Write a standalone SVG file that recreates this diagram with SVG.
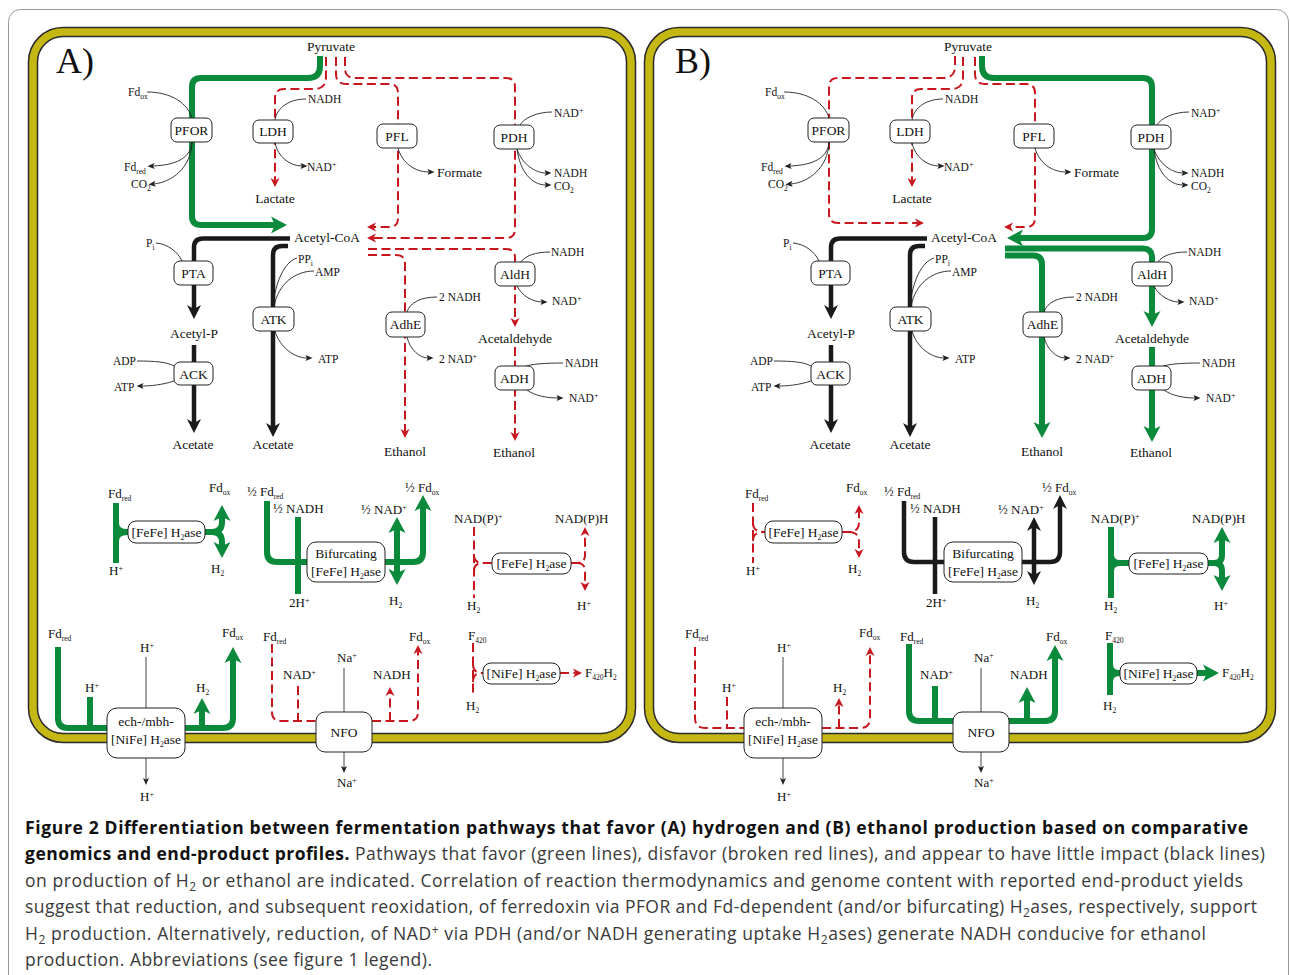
<svg xmlns="http://www.w3.org/2000/svg" width="1290" height="975" viewBox="0 0 1290 975">
<defs>
<style>
.g{stroke:#0b8a3c;stroke-width:6;fill:none;stroke-linejoin:round}
.k{stroke:#1a1a1a;stroke-width:4.5;fill:none;stroke-linejoin:round}
.r{stroke:#c8161e;stroke-width:2;fill:none;stroke-dasharray:9 4.5}
.th{stroke:#222;stroke-width:0.9;fill:none}
.gr{stroke:#444;stroke-width:1;fill:none}
.box{fill:#fff;stroke:#222;stroke-width:1}
.bd1{fill:none;stroke:#2a2a2a;stroke-width:10.5}
.bd2{fill:none;stroke:#c5b815;stroke-width:7.5}
text{font-family:"Liberation Serif","Times New Roman",serif;fill:#111}
.e{font-size:13.5px;text-anchor:middle}
.p{font-size:13.5px}
.m{text-anchor:middle}
.c{font-size:11.5px}
.b{font-size:13px}
.sb{font-size:7.5px}
.sp{font-size:8px}
.lab{font-size:36px}
.cap{font-family:"Open Sans","Liberation Sans",sans-serif;font-size:17.5px;fill:#3a3a3a}
.bo{font-weight:bold;fill:#111}
</style>
<marker id="mg" markerUnits="userSpaceOnUse" markerWidth="20" markerHeight="20" refX="4" refY="0" orient="auto" overflow="visible"><path d="M0,-8.5 L16,0 L0,8.5 L4,0 z" fill="#0b8a3c"/></marker>
<marker id="mk" markerUnits="userSpaceOnUse" markerWidth="20" markerHeight="20" refX="4" refY="0" orient="auto" overflow="visible"><path d="M0,-7 L14,0 L0,7 L4,0 z" fill="#1a1a1a"/></marker>
<marker id="mr" markerUnits="userSpaceOnUse" markerWidth="12" markerHeight="12" refX="2.5" refY="0" orient="auto" overflow="visible"><path d="M0,-4.5 L9,0 L0,4.5 L2.5,0 z" fill="#c8161e"/></marker>
<marker id="mt" markerUnits="userSpaceOnUse" markerWidth="10" markerHeight="10" refX="1.5" refY="0" orient="auto" overflow="visible"><path d="M0,-3 L7,0 L0,3 L1.5,0 z" fill="#222"/></marker>
</defs>
<rect x="0" y="0" width="1290" height="975" fill="#fff"/>
<rect x="8.5" y="9.5" width="1280" height="1000" rx="12" fill="none" stroke="#999" stroke-width="1"/>

<!-- Panel borders -->
<g id="cellA"><rect class="bd1" x="33" y="32" width="598" height="706" rx="30"/><rect class="bd2" x="33" y="32" width="598" height="706" rx="30"/></g>
<g id="cellB"><rect class="bd1" x="649" y="32" width="622" height="706" rx="30"/><rect class="bd2" x="649" y="32" width="622" height="706" rx="30"/></g>
<text class="lab" x="56" y="73">A)</text>
<text class="lab" x="675" y="73">B)</text>

<!-- ================= PANEL A ================= -->
<g id="panelA">
<g id="A-connectors">
<path class="g" marker-end="url(#mg)" d="M320,56 L320,66 Q320,78 308,78 L201,78 Q192,78 192,87 L192,216 Q192,225 201,225 L275,225"/>
<path class="r" marker-end="url(#mr)" d="M326,57 L326,77 Q326,89 314,89 L284,89 Q275,89 275,98 L275,180.5"/>
<path class="r" marker-end="url(#mr)" d="M336,57 L336,74 Q336,84 346,84 L389,84 Q398,84 398,93 L398,218 Q398,227 389,227 L373.5,227"/>
<path class="r" marker-end="url(#mr)" d="M345,57 L345,68 Q345,78 355,78 L506,78 Q515,78 515,87 L515,229 Q515,238 506,238 L373.5,238"/>
<path class="k" marker-end="url(#mk)" d="M290,238.5 L203,238.5 Q194,238.5 194,247.5 L194,309"/>
<path class="k" marker-end="url(#mk)" d="M194,345 L194,423"/>
<path class="k" marker-end="url(#mk)" d="M288,246 L282,246 Q273,246 273,255 L273,427"/>
<path class="r" marker-end="url(#mr)" d="M368,249 L506,249 Q515,249 515,258 L515,320.5"/>
<path class="r" marker-end="url(#mr)" d="M368,255 L396,255 Q405,255 405,264 L405,431.5"/>
<path class="r" marker-end="url(#mr)" d="M515,347 L515,434.5"/>
<!-- cofactor curves -->
<path class="th" d="M147,92 C172,92 188,104 192,118"/>
<path class="th" marker-end="url(#mt)" d="M192,142 C191,157 178,165 153,166"/>
<path class="th" marker-end="url(#mt)" d="M192,142 C191,168 172,182 154,184"/>
<path class="th" d="M306,99 C290,99 277,107 275,120"/>
<path class="th" marker-end="url(#mt)" d="M275,143 C278,157 290,166 302,166"/>
<path class="th" marker-end="url(#mt)" d="M398,148 C402,163 415,172 429,172"/>
<path class="th" d="M552,112 C537,112 524,118 520,125"/>
<path class="th" marker-end="url(#mt)" d="M517,149 C522,164 535,173 546,173"/>
<path class="th" marker-end="url(#mt)" d="M517,149 C520,172 532,185 546,185"/>
<path class="th" d="M156,243 C168,244 178,252 182,261"/>
<path class="th" d="M137,361 C155,361 167,362 174,366"/>
<path class="th" marker-end="url(#mt)" d="M174,381 C162,385 150,386 142,386"/>
<path class="th" d="M297,258 C284,262 275,283 273,307"/>
<path class="th" d="M314,271 C296,271 278,283 274,307"/>
<path class="th" marker-end="url(#mt)" d="M275,331 C280,348 295,358 307,358"/>
<path class="th" d="M437,297 C422,297 410,302 407,312"/>
<path class="th" marker-end="url(#mt)" d="M407,337 C410,350 420,358 428,358"/>
<path class="th" d="M550,252 C535,252 525,256 521,262"/>
<path class="th" marker-end="url(#mt)" d="M517,286 C522,296 533,302 542,302"/>
<path class="th" d="M563,363 C545,363 530,364 524,367"/>
<path class="th" marker-end="url(#mt)" d="M527,390 C535,396 548,398 558,398"/>
<!-- bottom: FeFe Fd (green) -->
<path class="g" d="M116,503 L116,563 M116,523 Q116,532 127,532 L128,532 M116,541 Q116,532 127,532"/>
<path class="g" marker-end="url(#mg)" d="M205,532 L212,532 Q222,532 222,522 L222,517"/>
<path class="g" marker-end="url(#mg)" d="M212,532 Q222,532 222,542 L222,546"/>
<!-- bifurcating (green) -->
<path class="g" d="M267,501 L267,552 Q267,562 277,562 L307,562 M298,517 L298,594"/>
<path class="g" marker-end="url(#mg)" d="M385,562 L413,562 Q423,562 423,552 L423,507"/>
<path class="g" marker-end="url(#mg)" d="M397,562 L397,529"/>
<path class="g" marker-end="url(#mg)" d="M397,562 L397,573"/>
<!-- NAD(P) FeFe (red) -->
<path class="r" d="M474,527 L474,598 M474,555 Q474,563 483,563 L492,563 M474,571 Q474,563 483,563"/>
<path class="r" marker-end="url(#mr)" d="M571,563 L577,563 Q585,563 585,555 L585,533.5"/>
<path class="r" marker-end="url(#mr)" d="M577,563 Q585,563 585,571 L585,584.5"/>
<!-- ech (green) -->
<path class="g" d="M58,647 L58,718 Q58,728 68,728 L107,728 M90,697 L90,728"/>
<path class="g" marker-end="url(#mg)" d="M185,728 L223,728 Q233,728 233,718 L233,659"/>
<path class="g" marker-end="url(#mg)" d="M202,728 L202,710"/>
<path class="gr" d="M146,657 L146,708"/>
<path class="gr" marker-end="url(#mt)" d="M146,758 L146,779.5"/>
<!-- NFO (red) -->
<path class="r" d="M272,644 L272,712 Q272,721 281,721 L316,721 M298,686 L298,721"/>
<path class="r" marker-end="url(#mr)" d="M372,721 L409,721 Q418,721 418,712 L418,651.5"/>
<path class="r" marker-end="url(#mr)" d="M390,721 L390,693.5"/>
<path class="gr" d="M344,668 L344,712"/>
<path class="gr" marker-end="url(#mt)" d="M344,752 L344,767.5"/>
<!-- F420 NiFe (red) -->
<path class="r" d="M473,643 L473,695 M473,664 Q473,673 482,673 L483,673 M473,682 Q473,673 482,673"/>
<path class="r" marker-end="url(#mr)" d="M560,673 L575.5,673"/>
</g>
<g id="A-PFOR"><rect class="box" x="171" y="118" width="41" height="24" rx="6"/><text class="e" x="191.5" y="134.5">PFOR</text></g>
<g id="A-LDH"><rect class="box" x="253" y="120" width="40" height="23" rx="6"/><text class="e" x="273" y="136">LDH</text></g>
<g id="A-PFL"><rect class="box" x="377" y="124" width="40" height="24" rx="6"/><text class="e" x="397" y="141">PFL</text></g>
<g id="A-PDH"><rect class="box" x="494" y="125" width="40" height="24" rx="6"/><text class="e" x="514" y="142">PDH</text></g>
<g id="A-PTA"><rect class="box" x="174" y="261" width="39" height="24" rx="6"/><text class="e" x="193.5" y="278">PTA</text></g>
<g id="A-ACK"><rect class="box" x="174" y="362" width="39" height="23" rx="6"/><text class="e" x="193.5" y="378.5">ACK</text></g>
<g id="A-ATK"><rect class="box" x="253" y="307" width="41" height="24" rx="6"/><text class="e" x="273.5" y="324">ATK</text></g>
<g id="A-AdhE"><rect class="box" x="386" y="312" width="39" height="25" rx="6"/><text class="e" x="405.5" y="329">AdhE</text></g>
<g id="A-AldH"><rect class="box" x="495" y="262" width="40" height="24" rx="6"/><text class="e" x="515" y="279">AldH</text></g>
<g id="A-ADH"><rect class="box" x="495" y="366" width="39" height="24" rx="6"/><text class="e" x="514.5" y="383">ADH</text></g>
<g id="A-FeFe1"><rect class="box" x="128" y="521" width="77" height="22" rx="8"/><text class="e" x="166.5" y="537">[FeFe] H<tspan class="sb" dy="3">2</tspan><tspan dy="-3">ase</tspan></text></g>
<g id="A-Bifurc"><rect class="box" x="307" y="542" width="78" height="40" rx="9"/><text class="e" x="346" y="558">Bifurcating</text><text class="e" x="346" y="576">[FeFe] H<tspan class="sb" dy="3">2</tspan><tspan dy="-3">ase</tspan></text></g>
<g id="A-FeFe2"><rect class="box" x="492" y="553" width="79" height="21" rx="8"/><text class="e" x="531.5" y="568">[FeFe] H<tspan class="sb" dy="3">2</tspan><tspan dy="-3">ase</tspan></text></g>
<g id="A-ech"><rect class="box" x="107" y="708" width="78" height="50" rx="10"/><text class="e" x="146" y="726">ech-/mbh-</text><text class="e" x="146" y="744">[NiFe] H<tspan class="sb" dy="3">2</tspan><tspan dy="-3">ase</tspan></text></g>
<g id="A-NFO"><rect class="box" x="316" y="712" width="56" height="40" rx="9"/><text class="e" x="344" y="737">NFO</text></g>
<g id="A-NiFe"><rect class="box" x="483" y="663" width="77" height="21" rx="8"/><text class="e" x="521.5" y="678">[NiFe] H<tspan class="sb" dy="3">2</tspan><tspan dy="-3">ase</tspan></text></g>
<g id="A-labels">
<text class="p m" x="331" y="51">Pyruvate</text>
<text class="c" x="128" y="96">Fd<tspan class="sb" dy="3">ox</tspan></text>
<text class="c" x="124" y="171">Fd<tspan class="sb" dy="3">red</tspan></text>
<text class="c" x="131" y="188">CO<tspan class="sb" dy="3">2</tspan></text>
<text class="c" x="308" y="103">NADH</text>
<text class="c" x="307" y="171">NAD<tspan class="sp" dy="-4">+</tspan></text>
<text class="p m" x="275" y="203">Lactate</text>
<text class="p" x="437" y="177">Formate</text>
<text class="c" x="554" y="117">NAD<tspan class="sp" dy="-4">+</tspan></text>
<text class="c" x="554" y="177">NADH</text>
<text class="c" x="554" y="190">CO<tspan class="sb" dy="3">2</tspan></text>
<text class="p" x="294" y="242">Acetyl-CoA</text>
<text class="c" x="146" y="247">P<tspan class="sb" dy="3">i</tspan></text>
<text class="c" x="298" y="263">PP<tspan class="sb" dy="3">i</tspan></text>
<text class="c" x="315" y="276">AMP</text>
<text class="p m" x="194" y="338">Acetyl-P</text>
<text class="c" x="113" y="365">ADP</text>
<text class="c" x="114" y="391">ATP</text>
<text class="c" x="318" y="363">ATP</text>
<text class="p m" x="193" y="449">Acetate</text>
<text class="p m" x="273" y="449">Acetate</text>
<text class="c" x="439" y="301">2 NADH</text>
<text class="c" x="439" y="363">2 NAD<tspan class="sp" dy="-4">+</tspan></text>
<text class="c" x="551" y="256">NADH</text>
<text class="c" x="552" y="305">NAD<tspan class="sp" dy="-4">+</tspan></text>
<text class="p m" x="515" y="343">Acetaldehyde</text>
<text class="c" x="565" y="367">NADH</text>
<text class="c" x="569" y="402">NAD<tspan class="sp" dy="-4">+</tspan></text>
<text class="p m" x="405" y="456">Ethanol</text>
<text class="p m" x="514" y="457">Ethanol</text>
<text class="b" x="108" y="498">Fd<tspan class="sb" dy="3">red</tspan></text>
<text class="b" x="209" y="492">Fd<tspan class="sb" dy="3">ox</tspan></text>
<text class="b" x="109" y="575">H<tspan class="sp" dy="-4">+</tspan></text>
<text class="b" x="211" y="573">H<tspan class="sb" dy="3">2</tspan></text>
<text class="b" x="247" y="496">½ Fd<tspan class="sb" dy="3">red</tspan></text>
<text class="b" x="273" y="513">½ NADH</text>
<text class="b" x="289" y="607">2H<tspan class="sp" dy="-4">+</tspan></text>
<text class="b" x="361" y="514">½ NAD<tspan class="sp" dy="-4">+</tspan></text>
<text class="b" x="405" y="492">½ Fd<tspan class="sb" dy="3">ox</tspan></text>
<text class="b" x="389" y="605">H<tspan class="sb" dy="3">2</tspan></text>
<text class="b" x="454" y="523">NAD(P)<tspan class="sp" dy="-4">+</tspan></text>
<text class="b" x="555" y="523">NAD(P)H</text>
<text class="b" x="467" y="610">H<tspan class="sb" dy="3">2</tspan></text>
<text class="b" x="577" y="610">H<tspan class="sp" dy="-4">+</tspan></text>
<text class="b" x="48" y="638">Fd<tspan class="sb" dy="3">red</tspan></text>
<text class="b" x="140" y="652">H<tspan class="sp" dy="-4">+</tspan></text>
<text class="b" x="85" y="692">H<tspan class="sp" dy="-4">+</tspan></text>
<text class="b" x="196" y="692">H<tspan class="sb" dy="3">2</tspan></text>
<text class="b" x="222" y="637">Fd<tspan class="sb" dy="3">ox</tspan></text>
<text class="b" x="140" y="801">H<tspan class="sp" dy="-4">+</tspan></text>
<text class="b" x="263" y="641">Fd<tspan class="sb" dy="3">red</tspan></text>
<text class="b" x="283" y="679">NAD<tspan class="sp" dy="-4">+</tspan></text>
<text class="b" x="337" y="662">Na<tspan class="sp" dy="-4">+</tspan></text>
<text class="b" x="373" y="679">NADH</text>
<text class="b" x="409" y="641">Fd<tspan class="sb" dy="3">ox</tspan></text>
<text class="b" x="337" y="787">Na<tspan class="sp" dy="-4">+</tspan></text>
<text class="b" x="468" y="640">F<tspan class="sb" dy="3">420</tspan></text>
<text class="b" x="466" y="710">H<tspan class="sb" dy="3">2</tspan></text>
<text class="b" x="585" y="677">F<tspan class="sb" dy="3">420</tspan><tspan dy="-3">H</tspan><tspan class="sb" dy="3">2</tspan></text>
</g>
</g>

<!-- ================= PANEL B ================= -->
<g id="panelB" transform="translate(637,0)">
<g id="B-connectors">
<path class="r" marker-end="url(#mr)" d="M318,56 L318,66 Q318,78 306,78 L201,78 Q192,78 192,87 L192,214 Q192,223 201,223 L280.5,223"/>
<path class="r" marker-end="url(#mr)" d="M326,57 L326,77 Q326,89 314,89 L284,89 Q275,89 275,98 L275,180.5"/>
<path class="r" marker-end="url(#mr)" d="M338,57 L338,74 Q338,84 348,84 L389,84 Q398,84 398,93 L398,218 Q398,227 389,227 L373.5,227"/>
<path class="g" marker-end="url(#mg)" d="M345,56 L345,66 Q345,78 357,78 L506,78 Q515,78 515,87 L515,229 Q515,238 506,238 L382,238"/>
<path class="k" marker-end="url(#mk)" d="M290,238.5 L203,238.5 Q194,238.5 194,247.5 L194,309"/>
<path class="k" marker-end="url(#mk)" d="M194,345 L194,423"/>
<path class="k" marker-end="url(#mk)" d="M288,246 L282,246 Q273,246 273,255 L273,427"/>
<path class="g" marker-end="url(#mg)" d="M368,248.5 L506,248.5 Q515,248.5 515,257.5 L515,315"/>
<path class="g" marker-end="url(#mg)" d="M368,255.5 L396,255.5 Q405,255.5 405,264.5 L405,426"/>
<path class="g" marker-end="url(#mg)" d="M515,347 L515,430"/>
<path class="th" d="M147,92 C172,92 188,104 192,118"/>
<path class="th" marker-end="url(#mt)" d="M192,142 C191,157 178,165 153,166"/>
<path class="th" marker-end="url(#mt)" d="M192,142 C191,168 172,182 154,184"/>
<path class="th" d="M306,99 C290,99 277,107 275,120"/>
<path class="th" marker-end="url(#mt)" d="M275,143 C278,157 290,166 302,166"/>
<path class="th" marker-end="url(#mt)" d="M398,148 C402,163 415,172 429,172"/>
<path class="th" d="M552,112 C537,112 524,118 520,125"/>
<path class="th" marker-end="url(#mt)" d="M517,149 C522,164 535,173 546,173"/>
<path class="th" marker-end="url(#mt)" d="M517,149 C520,172 532,185 546,185"/>
<path class="th" d="M156,243 C168,244 178,252 182,261"/>
<path class="th" d="M137,361 C155,361 167,362 174,366"/>
<path class="th" marker-end="url(#mt)" d="M174,381 C162,385 150,386 142,386"/>
<path class="th" d="M297,258 C284,262 275,283 273,307"/>
<path class="th" d="M314,271 C296,271 278,283 274,307"/>
<path class="th" marker-end="url(#mt)" d="M275,331 C280,348 295,358 307,358"/>
<path class="th" d="M437,297 C422,297 410,302 407,312"/>
<path class="th" marker-end="url(#mt)" d="M407,337 C410,350 420,358 428,358"/>
<path class="th" d="M550,252 C535,252 525,256 521,262"/>
<path class="th" marker-end="url(#mt)" d="M517,286 C522,296 533,302 542,302"/>
<path class="th" d="M563,363 C545,363 530,364 524,367"/>
<path class="th" marker-end="url(#mt)" d="M527,390 C535,396 548,398 558,398"/>
<!-- FeFe Fd (red) -->
<path class="r" d="M116,503 L116,563 M116,523 Q116,532 127,532 L128,532 M116,541 Q116,532 127,532"/>
<path class="r" marker-end="url(#mr)" d="M205,532 L212,532 Q222,532 222,522 L222,511.5"/>
<path class="r" marker-end="url(#mr)" d="M212,532 Q222,532 222,542 L222,551.5"/>
<!-- bifurcating (black) -->
<path class="k" d="M267,501 L267,552 Q267,562 277,562 L307,562 M298,517 L298,594"/>
<path class="k" marker-end="url(#mk)" d="M385,562 L413,562 Q423,562 423,552 L423,505"/>
<path class="k" marker-end="url(#mk)" d="M397,562 L397,527"/>
<path class="k" marker-end="url(#mk)" d="M397,562 L397,575"/>
<!-- NAD(P) FeFe (green) -->
<path class="g" d="M474,527 L474,598 M474,555 Q474,563 483,563 L492,563 M474,571 Q474,563 483,563"/>
<path class="g" marker-end="url(#mg)" d="M571,563 L577,563 Q585,563 585,555 L585,539"/>
<path class="g" marker-end="url(#mg)" d="M577,563 Q585,563 585,571 L585,579"/>
<!-- ech (red) -->
<path class="r" d="M58,647 L58,718 Q58,728 68,728 L107,728 M90,697 L90,728"/>
<path class="r" marker-end="url(#mr)" d="M185,728 L223,728 Q233,728 233,718 L233,653.5"/>
<path class="r" marker-end="url(#mr)" d="M202,728 L202,704.5"/>
<path class="gr" d="M146,657 L146,708"/>
<path class="gr" marker-end="url(#mt)" d="M146,758 L146,779.5"/>
<!-- NFO (green) -->
<path class="g" d="M272,644 L272,711 Q272,721 282,721 L316,721 M298,686 L298,721"/>
<path class="g" marker-end="url(#mg)" d="M372,721 L408,721 Q418,721 418,711 L418,657"/>
<path class="g" marker-end="url(#mg)" d="M390,721 L390,699"/>
<path class="gr" d="M344,668 L344,712"/>
<path class="gr" marker-end="url(#mt)" d="M344,752 L344,767.5"/>
<!-- F420 NiFe (green) -->
<path class="g" d="M473,643 L473,695 M473,664 Q473,673 482,673 L483,673 M473,682 Q473,673 482,673"/>
<path class="g" marker-end="url(#mg)" d="M560,673 L570,673"/>
</g>
<g id="B-PFOR"><rect class="box" x="171" y="118" width="41" height="24" rx="6"/><text class="e" x="191.5" y="134.5">PFOR</text></g>
<g id="B-LDH"><rect class="box" x="253" y="120" width="40" height="23" rx="6"/><text class="e" x="273" y="136">LDH</text></g>
<g id="B-PFL"><rect class="box" x="377" y="124" width="40" height="24" rx="6"/><text class="e" x="397" y="141">PFL</text></g>
<g id="B-PDH"><rect class="box" x="494" y="125" width="40" height="24" rx="6"/><text class="e" x="514" y="142">PDH</text></g>
<g id="B-PTA"><rect class="box" x="174" y="261" width="39" height="24" rx="6"/><text class="e" x="193.5" y="278">PTA</text></g>
<g id="B-ACK"><rect class="box" x="174" y="362" width="39" height="23" rx="6"/><text class="e" x="193.5" y="378.5">ACK</text></g>
<g id="B-ATK"><rect class="box" x="253" y="307" width="41" height="24" rx="6"/><text class="e" x="273.5" y="324">ATK</text></g>
<g id="B-AdhE"><rect class="box" x="386" y="312" width="39" height="25" rx="6"/><text class="e" x="405.5" y="329">AdhE</text></g>
<g id="B-AldH"><rect class="box" x="495" y="262" width="40" height="24" rx="6"/><text class="e" x="515" y="279">AldH</text></g>
<g id="B-ADH"><rect class="box" x="495" y="366" width="39" height="24" rx="6"/><text class="e" x="514.5" y="383">ADH</text></g>
<g id="B-FeFe1"><rect class="box" x="128" y="521" width="77" height="22" rx="8"/><text class="e" x="166.5" y="537">[FeFe] H<tspan class="sb" dy="3">2</tspan><tspan dy="-3">ase</tspan></text></g>
<g id="B-Bifurc"><rect class="box" x="307" y="542" width="78" height="40" rx="9"/><text class="e" x="346" y="558">Bifurcating</text><text class="e" x="346" y="576">[FeFe] H<tspan class="sb" dy="3">2</tspan><tspan dy="-3">ase</tspan></text></g>
<g id="B-FeFe2"><rect class="box" x="492" y="553" width="79" height="21" rx="8"/><text class="e" x="531.5" y="568">[FeFe] H<tspan class="sb" dy="3">2</tspan><tspan dy="-3">ase</tspan></text></g>
<g id="B-ech"><rect class="box" x="107" y="708" width="78" height="50" rx="10"/><text class="e" x="146" y="726">ech-/mbh-</text><text class="e" x="146" y="744">[NiFe] H<tspan class="sb" dy="3">2</tspan><tspan dy="-3">ase</tspan></text></g>
<g id="B-NFO"><rect class="box" x="316" y="712" width="56" height="40" rx="9"/><text class="e" x="344" y="737">NFO</text></g>
<g id="B-NiFe"><rect class="box" x="483" y="663" width="77" height="21" rx="8"/><text class="e" x="521.5" y="678">[NiFe] H<tspan class="sb" dy="3">2</tspan><tspan dy="-3">ase</tspan></text></g>
<g id="B-labels">
<text class="p m" x="331" y="51">Pyruvate</text>
<text class="c" x="128" y="96">Fd<tspan class="sb" dy="3">ox</tspan></text>
<text class="c" x="124" y="171">Fd<tspan class="sb" dy="3">red</tspan></text>
<text class="c" x="131" y="188">CO<tspan class="sb" dy="3">2</tspan></text>
<text class="c" x="308" y="103">NADH</text>
<text class="c" x="307" y="171">NAD<tspan class="sp" dy="-4">+</tspan></text>
<text class="p m" x="275" y="203">Lactate</text>
<text class="p" x="437" y="177">Formate</text>
<text class="c" x="554" y="117">NAD<tspan class="sp" dy="-4">+</tspan></text>
<text class="c" x="554" y="177">NADH</text>
<text class="c" x="554" y="190">CO<tspan class="sb" dy="3">2</tspan></text>
<text class="p" x="294" y="242">Acetyl-CoA</text>
<text class="c" x="146" y="247">P<tspan class="sb" dy="3">i</tspan></text>
<text class="c" x="298" y="263">PP<tspan class="sb" dy="3">i</tspan></text>
<text class="c" x="315" y="276">AMP</text>
<text class="p m" x="194" y="338">Acetyl-P</text>
<text class="c" x="113" y="365">ADP</text>
<text class="c" x="114" y="391">ATP</text>
<text class="c" x="318" y="363">ATP</text>
<text class="p m" x="193" y="449">Acetate</text>
<text class="p m" x="273" y="449">Acetate</text>
<text class="c" x="439" y="301">2 NADH</text>
<text class="c" x="439" y="363">2 NAD<tspan class="sp" dy="-4">+</tspan></text>
<text class="c" x="551" y="256">NADH</text>
<text class="c" x="552" y="305">NAD<tspan class="sp" dy="-4">+</tspan></text>
<text class="p m" x="515" y="343">Acetaldehyde</text>
<text class="c" x="565" y="367">NADH</text>
<text class="c" x="569" y="402">NAD<tspan class="sp" dy="-4">+</tspan></text>
<text class="p m" x="405" y="456">Ethanol</text>
<text class="p m" x="514" y="457">Ethanol</text>
<text class="b" x="108" y="498">Fd<tspan class="sb" dy="3">red</tspan></text>
<text class="b" x="209" y="492">Fd<tspan class="sb" dy="3">ox</tspan></text>
<text class="b" x="109" y="575">H<tspan class="sp" dy="-4">+</tspan></text>
<text class="b" x="211" y="573">H<tspan class="sb" dy="3">2</tspan></text>
<text class="b" x="247" y="496">½ Fd<tspan class="sb" dy="3">red</tspan></text>
<text class="b" x="273" y="513">½ NADH</text>
<text class="b" x="289" y="607">2H<tspan class="sp" dy="-4">+</tspan></text>
<text class="b" x="361" y="514">½ NAD<tspan class="sp" dy="-4">+</tspan></text>
<text class="b" x="405" y="492">½ Fd<tspan class="sb" dy="3">ox</tspan></text>
<text class="b" x="389" y="605">H<tspan class="sb" dy="3">2</tspan></text>
<text class="b" x="454" y="523">NAD(P)<tspan class="sp" dy="-4">+</tspan></text>
<text class="b" x="555" y="523">NAD(P)H</text>
<text class="b" x="467" y="610">H<tspan class="sb" dy="3">2</tspan></text>
<text class="b" x="577" y="610">H<tspan class="sp" dy="-4">+</tspan></text>
<text class="b" x="48" y="638">Fd<tspan class="sb" dy="3">red</tspan></text>
<text class="b" x="140" y="652">H<tspan class="sp" dy="-4">+</tspan></text>
<text class="b" x="85" y="692">H<tspan class="sp" dy="-4">+</tspan></text>
<text class="b" x="196" y="692">H<tspan class="sb" dy="3">2</tspan></text>
<text class="b" x="222" y="637">Fd<tspan class="sb" dy="3">ox</tspan></text>
<text class="b" x="140" y="801">H<tspan class="sp" dy="-4">+</tspan></text>
<text class="b" x="263" y="641">Fd<tspan class="sb" dy="3">red</tspan></text>
<text class="b" x="283" y="679">NAD<tspan class="sp" dy="-4">+</tspan></text>
<text class="b" x="337" y="662">Na<tspan class="sp" dy="-4">+</tspan></text>
<text class="b" x="373" y="679">NADH</text>
<text class="b" x="409" y="641">Fd<tspan class="sb" dy="3">ox</tspan></text>
<text class="b" x="337" y="787">Na<tspan class="sp" dy="-4">+</tspan></text>
<text class="b" x="468" y="640">F<tspan class="sb" dy="3">420</tspan></text>
<text class="b" x="466" y="710">H<tspan class="sb" dy="3">2</tspan></text>
<text class="b" x="585" y="677">F<tspan class="sb" dy="3">420</tspan><tspan dy="-3">H</tspan><tspan class="sb" dy="3">2</tspan></text>
</g>
</g>

<!-- Caption -->
<g id="caption">
<text class="cap" x="25" y="834" textLength="1223" lengthAdjust="spacing"><tspan class="bo">Figure 2 Differentiation between fermentation pathways that favor (A) hydrogen and (B) ethanol production based on comparative</tspan></text>
<text class="cap" x="25" y="860" textLength="1240" lengthAdjust="spacing"><tspan class="bo">genomics and end-product profiles.</tspan> Pathways that favor (green lines), disfavor (broken red lines), and appear to have little impact (black lines)</text>
<text class="cap" x="25" y="887" textLength="1218" lengthAdjust="spacing">on production of H<tspan font-size="12" dy="4">2</tspan><tspan dy="-4"> or ethanol are indicated. Correlation of reaction thermodynamics and genome content with reported end-product yields</tspan></text>
<text class="cap" x="25" y="913" textLength="1232" lengthAdjust="spacing">suggest that reduction, and subsequent reoxidation, of ferredoxin via PFOR and Fd-dependent (and/or bifurcating) H<tspan font-size="12" dy="4">2</tspan><tspan dy="-4">ases, respectively, support</tspan></text>
<text class="cap" x="25" y="940" textLength="1181" lengthAdjust="spacing">H<tspan font-size="12" dy="4">2</tspan><tspan dy="-4"> production. Alternatively, reduction, of NAD</tspan><tspan font-size="12" dy="-6">+</tspan><tspan dy="6"> via PDH (and/or NADH generating uptake H</tspan><tspan font-size="12" dy="4">2</tspan><tspan dy="-4">ases) generate NADH conducive for ethanol</tspan></text>
<text class="cap" x="25" y="966" textLength="407" lengthAdjust="spacing">production. Abbreviations (see figure 1 legend).</text>
</g>
</svg>
